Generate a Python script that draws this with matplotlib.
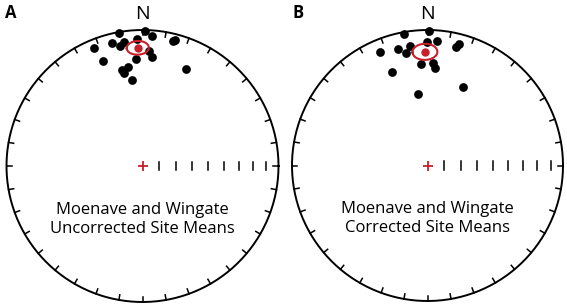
import numpy as np
import matplotlib
matplotlib.use("Agg")
import matplotlib.pyplot as plt

# site mean directions (declination, inclination in degrees)
dec_a = [350.1, 1.1, 4.3, 346.0, 351.5, 349.4, 357.6, 337.7, 13.6, 14.5,
         3.4, 4.8, 356.5, 339.6, 351.9, 347.8, 349.0, 24.1, 352.8]
inc_a = [1.0, 1.0, 4.6, 7.8, 8.6, 11.2, 7.5, 6.9, 5.8, 4.9,
         16.2, 20.4, 22.0, 18.5, 27.1, 28.6, 30.8, 22.7, 36.4]
mean_a = (357.7, 14.0)
a95_a = 5.2

dec_b = [349.8, 0.8, 4.2, 337.3, 345.9, 351.7, 349.2, 359.9, 13.5, 14.4,
         356.3, 2.9, 4.6, 339.2, 24.2, 352.6]
inc_b = [1.8, 0.8, 8.5, 9.9, 12.6, 11.8, 16.4, 9.5, 10.7, 8.2,
         26.1, 25.5, 28.8, 27.1, 36.8, 46.0]
mean_b = (358.7, 17.1)
a95_b = 6.0

inc_ticks = [80, 70, 60, 50, 40, 30, 20, 10]
panels = ["A", "B"]
captions = ["Moenave and Wingate\nUncorrected Site Means",
            "Moenave and Wingate\nCorrected Site Means"]

plt.rcParams['font.family'] = ['Open Sans', 'DejaVu Sans']
RED = "#c8202a"


def proj(dec, inc):
    # Schmidt equal-area projection, unit radius at the horizontal
    dec = np.radians(np.asarray(dec, dtype=float))
    p = np.radians(90 - np.asarray(inc, dtype=float))
    r = np.sqrt(2) * np.sin(p / 2)
    return r * np.sin(dec), r * np.cos(dec)


def cone(dec, inc, a95, n=200):
    d, i = np.radians(dec), np.radians(inc)
    m = np.array([np.cos(i) * np.cos(d), np.cos(i) * np.sin(d), np.sin(i)])
    u = np.cross(m, [0, 0, 1.0])
    u /= np.linalg.norm(u)
    v = np.cross(m, u)
    t = np.linspace(0, 2 * np.pi, n)
    a = np.radians(a95)
    pts = np.cos(a) * m[:, None] + np.sin(a) * (np.outer(u, np.cos(t)) + np.outer(v, np.sin(t)))
    decs = np.degrees(np.arctan2(pts[1], pts[0]))
    incs = np.degrees(np.arcsin(pts[2]))
    return proj(decs, incs)


def draw_net(ax, decs, incs, mean, a95, caption):
    t = np.linspace(0, 2 * np.pi, 400)
    ax.plot(np.cos(t), np.sin(t), color="black", lw=1.4, zorder=2)
    for az in range(0, 360, 10):
        s, c = np.sin(np.radians(az)), np.cos(np.radians(az))
        ax.plot([s, s * 0.962], [c, c * 0.962], color="black", lw=1.1, zorder=2)
    tx, _ = proj(np.full(len(inc_ticks), 90.0), inc_ticks)
    for x in tx:
        ax.plot([x, x], [-0.03, 0.03], color="black", lw=1.1, zorder=2)
    ax.plot([0], [0], marker="+", color=RED, ms=7, mew=1.3, zorder=3)

    x, y = proj(decs, incs)
    ax.plot(x, y, "o", color="black", ms=6.3, mec="none", zorder=4)
    mx, my = proj(mean[0], mean[1])
    ax.plot([mx], [my], "o", color=RED, ms=6.0, mec="none", zorder=5)
    cx, cy = cone(mean[0], mean[1], a95)
    ax.plot(cx, cy, color=RED, lw=1.5, zorder=5)

    ax.text(0, 1.12, "N", ha="center", va="center", fontsize=14)
    ax.text(0, -0.39, caption, ha="center", va="center", fontsize=12, linespacing=1.25)
    ax.axis("off")


fig = plt.figure(figsize=(5.67, 3.06), dpi=100)
ax_a = fig.add_axes([0, 0, 285 / 567, 1])
ax_a.set_xlim(-142.5 / 136, 142.5 / 136)
ax_a.set_ylim(-140 / 136, 166 / 136)
draw_net(ax_a, dec_a, inc_a, mean_a, a95_a, captions[0])

ax_b = fig.add_axes([282 / 567, 0, 285 / 567, 1])
ax_b.set_xlim(-145.5 / 135.5, 139.5 / 135.5)
ax_b.set_ylim(-140.5 / 135.5, 165.5 / 135.5)
draw_net(ax_b, dec_b, inc_b, mean_b, a95_b, captions[1])

fig.text(11 / 567, 1 - 13 / 306, panels[0], ha="center", va="center", fontsize=12, fontweight="bold")
fig.text(298 / 567, 1 - 13 / 306, panels[1], ha="center", va="center", fontsize=12, fontweight="bold")

fig.savefig("out.png", dpi=100)
